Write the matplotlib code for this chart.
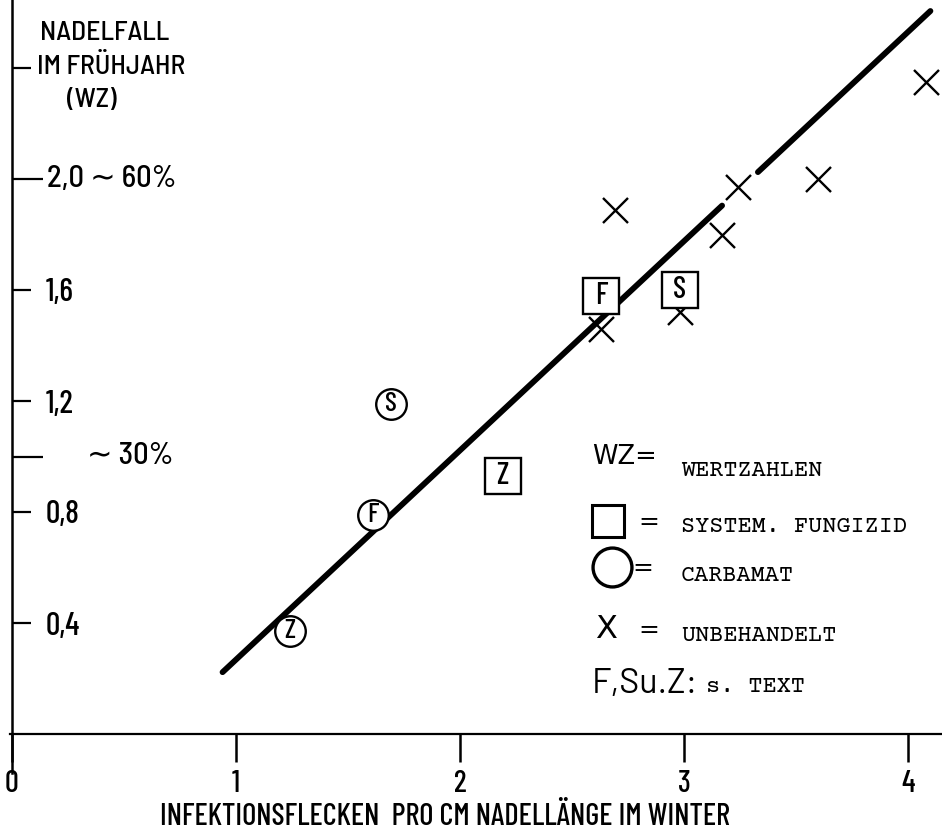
import matplotlib
matplotlib.use("Agg")
import matplotlib.pyplot as plt
from matplotlib import font_manager as fm

# ---------------- data ----------------
x_ticks = [0, 1, 2, 3, 4]
x_tick_labels = ["0", "1", "2", "3", "4"]
y_ticks = [0.4, 0.8, 1.2, 1.6, 2.4]
y_tick_labels = ["0,4", "0,8", "1,2", "1,6", ""]
y_long_ticks = [1.0, 2.0]
y_long_labels = ["\u223c 30%", "2,0 \u223c 60%"]

# untreated (X)
unbehandelt_x = [2.63, 2.69, 2.98, 3.17, 3.24, 3.60, 4.08]
unbehandelt_y = [1.46, 1.89, 1.52, 1.80, 1.97, 2.00, 2.35]

# systemic fungicide (squares)
fungizid_labels = ["F", "S", "Z"]
fungizid_x = [2.63, 2.98, 2.19]
fungizid_y = [1.58, 1.60, 0.93]

# carbamate (circles)
carbamat_labels = ["F", "S", "Z"]
carbamat_x = [1.61, 1.69, 1.24]
carbamat_y = [0.79, 1.19, 0.37]

# regression line y = a + b x, drawn in two pieces (gap near x = 3.25)
fit_intercept = -0.486
fit_slope = 0.754
fit_segments = [(0.94, 3.17), (3.33, 4.10)]

x_label = "INFEKTIONSFLECKEN  PRO CM NADELLÄNGE IM WINTER"
y_title = ["NADELFALL", "IM FRÜHJAHR", "(WZ)"]

# ---------------- fonts ----------------
_names = {f.name for f in fm.fontManager.ttflist}


def pick(cands, fallback="DejaVu Sans"):
    return [c for c in cands if c in _names][:1] + [fallback]


SANS = pick(["Barlow Condensed", "Roboto Condensed", "Roboto"])
SEMI = pick(["Barlow Semi Condensed", "Barlow Condensed", "Roboto"])
WIDE = pick(["Barlow", "Roboto"])
MONO = pick(["Courier Prime", "Cutive Mono", "Liberation Mono"], "DejaVu Sans Mono")
PLAIN = ["DejaVu Sans"]
plt.rcParams["font.family"] = SANS
plt.rcParams["font.weight"] = "medium"

W, H = 942, 833
fig = plt.figure(figsize=(W / 100, H / 100), dpi=100)
ax = fig.add_axes([0, 0, 1, 1])
# pixel mapping: x0 at px 12, 224 px per unit; y0 at px 734, 277.5 px per unit
ax.set_xlim(-12 / 224, (W - 12) / 224)
ax.set_ylim((734 - H) / 277.5, 734 / 277.5)
ax.patch.set_alpha(0)

for s in ("top", "right"):
    ax.spines[s].set_visible(False)
ax.spines["left"].set_position(("data", 0))
ax.spines["bottom"].set_position(("data", 0))
ax.spines["left"].set_bounds(-0.14, 734 / 277.5)
ax.spines["bottom"].set_bounds(-0.01, (W - 12) / 224)
ax.spines["left"].set_linewidth(1.8)
ax.spines["bottom"].set_linewidth(1.6)

ax.set_xticks(x_ticks)
ax.set_xticklabels(x_tick_labels, fontsize=22)
ax.tick_params(axis="x", direction="out", length=20, width=1.8, pad=6)

ax.set_yticks(y_ticks)
ax.set_yticklabels(y_tick_labels, fontsize=23, ha="left")
ax.tick_params(axis="y", which="major", direction="in", length=14, width=1.6, pad=-24)
ax.set_yticks(y_long_ticks, minor=True)
ax.set_yticklabels(["", ""], minor=True)
ax.tick_params(axis="y", which="minor", direction="in", length=22, width=1.6)

offsets = [54, 25]
for val, lab, off in zip(y_long_ticks, y_long_labels, offsets):
    ax.annotate(lab, xy=(0, val), xytext=(off, 0), textcoords="offset points",
                ha="left", va="center", fontsize=22, family=SEMI)

# regression line
for x0, x1 in fit_segments:
    ax.plot([x0, x1], [fit_intercept + fit_slope * x0, fit_intercept + fit_slope * x1],
            color="black", lw=4.2, solid_capstyle="round", zorder=2)

# markers
ax.plot(unbehandelt_x, unbehandelt_y, ls="none", marker="x", ms=18, mew=1.7,
        color="black", zorder=3)
ax.plot(fungizid_x, fungizid_y, ls="none", marker="s", ms=26, mew=1.7,
        mfc="white", mec="black", zorder=4)
ax.plot(carbamat_x, carbamat_y, ls="none", marker="o", ms=22, mew=1.7,
        mfc="white", mec="black", zorder=4)
for x, y, l in zip(fungizid_x, fungizid_y, fungizid_labels):
    ax.text(x, y, l, ha="center", va="center", fontsize=22, zorder=5)
for x, y, l in zip(carbamat_x, carbamat_y, carbamat_labels):
    ax.text(x, y, l, ha="center", va="center", fontsize=20, zorder=5)


def px(x, y):
    return x / W, 1 - y / H


# y-axis title
fig.text(*px(40, 33), y_title[0], fontsize=20, ha="left", va="center", family=SEMI)
fig.text(*px(37, 66), y_title[1], fontsize=20, ha="left", va="center", family=SEMI)
fig.text(*px(67, 100), y_title[2], fontsize=20, ha="left", va="center", family=SEMI)

# x-axis label
fig.text(*px(445, 817), x_label, fontsize=22, ha="center", va="center")

# legend
mono_kw = dict(fontsize=17, ha="left", va="center", family=MONO, fontweight="normal")
plain_kw = dict(ha="left", va="center", family=PLAIN, fontweight="normal")

fig.text(*px(592, 457), "WZ=", fontsize=18.5, **plain_kw)
fig.text(*px(681, 471), "WERTZAHLEN", **mono_kw)

ax.plot([608 / W], [1 - 521 / H], transform=ax.transAxes, marker="s", ms=22.5,
        mfc="white", mec="black", mew=2.2, ls="none")
fig.text(*px(638, 522), "=", fontsize=18, **plain_kw)
fig.text(*px(681, 527), "SYSTEM. FUNGIZID", **mono_kw)

ax.plot([612 / W], [1 - 567 / H], transform=ax.transAxes, marker="o", ms=28,
        mfc="white", mec="black", mew=2.4, ls="none")
fig.text(*px(632, 568), "=", fontsize=18, **plain_kw)
fig.text(*px(681, 576), "CARBAMAT", **mono_kw)

fig.text(*px(595, 630), "X", fontsize=23, **plain_kw)
fig.text(*px(638, 630), "=", fontsize=18, **plain_kw)
fig.text(*px(681, 636), "UNBEHANDELT", **mono_kw)

fig.text(*px(592, 684), "F,Su.Z:", fontsize=24.5, ha="left", va="center", family=WIDE,
         fontweight="normal")
fig.text(*px(706, 687), "s. TEXT", **mono_kw)

fig.savefig("out.png", dpi=100, facecolor="white")
